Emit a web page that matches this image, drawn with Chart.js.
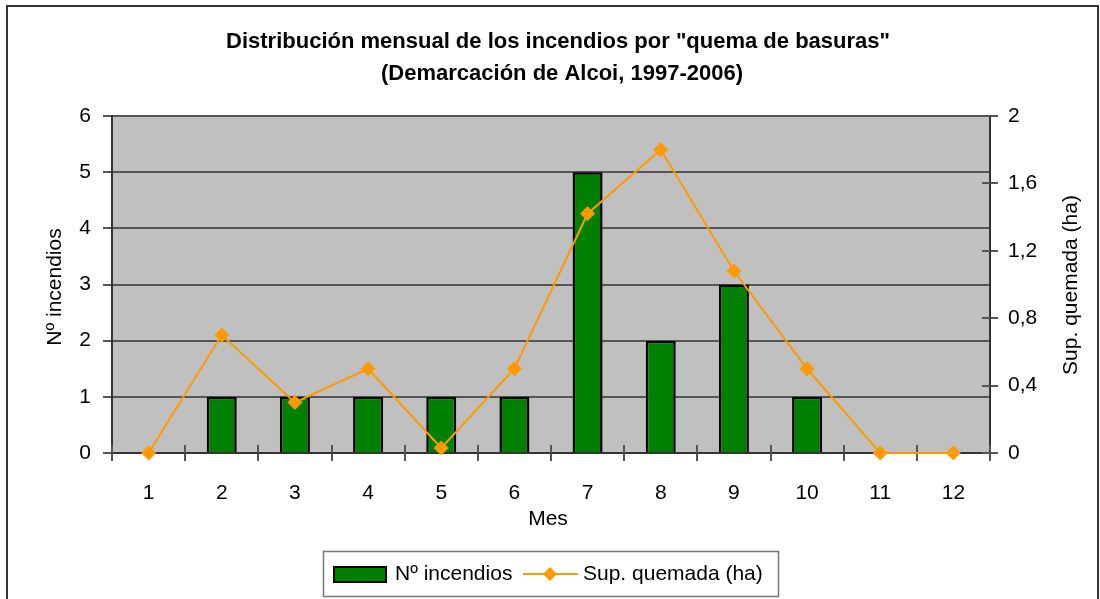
<!DOCTYPE html>
<html>
<head>
<meta charset="utf-8">
<script src="https://cdn.jsdelivr.net/npm/chart.js@4/dist/chart.umd.min.js"></script>
<style>
  html, body { margin: 0; padding: 0; background: #fff; }
  canvas { display: block; }
</style>
</head>
<body>
<canvas id="chart" width="1100" height="599"></canvas>
<script>
// datos
const meses = ["1", "2", "3", "4", "5", "6", "7", "8", "9", "10", "11", "12"];
const incendios = [0, 1, 1, 1, 1, 1, 5, 2, 3, 1, 0, 0];
const superficie = [0, 0.7, 0.3, 0.5, 0.03, 0.5, 1.42, 1.8, 1.08, 0.5, 0, 0];

const titulo = ["Distribución mensual de los incendios por \"quema de basuras\"", "(Demarcación de Alcoi, 1997-2006)"];
const tituloX = "Mes";
const tituloY = "Nº incendios";
const tituloY1 = "Sup. quemada (ha)";

const FAMILY = "'Liberation Sans', Arial, sans-serif";
const VERDE = "#008000";
const NARANJA = "#ff9900";
const GRIS = "#555";

const fondo = {
  id: "fondo",
  beforeDraw(chart) {
    const { ctx, chartArea: a } = chart;
    ctx.save();
    ctx.fillStyle = "#fff";
    ctx.fillRect(0, 0, chart.width, chart.height);
    ctx.fillStyle = "#c0c0c0";
    ctx.fillRect(a.left, a.top, a.right - a.left, a.bottom - a.top);
    // marco exterior
    ctx.strokeStyle = "#333";
    ctx.lineWidth = 2;
    ctx.strokeRect(7, 6, 1091, 700);
    ctx.restore();
  }
};

const extras = {
  id: "extras",
  beforeDatasetsDraw(chart) {
    // marcas interiores (cruzan el eje)
    const { ctx, chartArea: a } = chart;
    const x = chart.scales.x;
    const y1 = chart.scales.y1;
    ctx.save();
    ctx.strokeStyle = GRIS;
    ctx.lineWidth = 2;
    const paso = x.getPixelForValue(1) - x.getPixelForValue(0);
    for (let i = 0; i <= meses.length; i++) {
      const px = Math.round(x.getPixelForValue(0) - paso / 2 + i * paso);
      ctx.beginPath();
      ctx.moveTo(px, a.bottom - 8);
      ctx.lineTo(px, a.bottom);
      ctx.stroke();
    }
    y1.ticks.forEach((t) => {
      const py = Math.round(y1.getPixelForValue(t.value));
      ctx.beginPath();
      ctx.moveTo(a.right - 8, py);
      ctx.lineTo(a.right, py);
      ctx.stroke();
    });
    ctx.restore();
  },
  afterDraw(chart) {
    const { ctx } = chart;
    ctx.save();

    // titulo
    ctx.fillStyle = "#000";
    ctx.textAlign = "center";
    ctx.textBaseline = "middle";
    ctx.font = "bold 22px " + FAMILY;
    ctx.fillText(titulo[0], 558, 42);
    ctx.fillText(titulo[1], 562, 74);

    // titulos de ejes
    ctx.font = "21px " + FAMILY;
    ctx.fillText(tituloX, 548, 519);
    ctx.save();
    ctx.translate(55, 287);
    ctx.rotate(-Math.PI / 2);
    ctx.fillText(tituloY, 0, 0);
    ctx.restore();
    ctx.save();
    ctx.translate(1071, 285);
    ctx.rotate(-Math.PI / 2);
    ctx.fillText(tituloY1, 0, 0);
    ctx.restore();

    // leyenda
    ctx.strokeStyle = "#777";
    ctx.lineWidth = 1.5;
    ctx.strokeRect(323.5, 551.5, 455, 45);
    ctx.fillStyle = VERDE;
    ctx.fillRect(334, 567, 52, 15);
    ctx.strokeStyle = "#000";
    ctx.lineWidth = 2;
    ctx.strokeRect(334, 567, 52, 15);
    ctx.strokeStyle = NARANJA;
    ctx.beginPath();
    ctx.moveTo(523, 574);
    ctx.lineTo(578, 574);
    ctx.stroke();
    ctx.fillStyle = NARANJA;
    ctx.beginPath();
    ctx.moveTo(550 - 7, 574);
    ctx.lineTo(550, 574 - 7);
    ctx.lineTo(550 + 7, 574);
    ctx.lineTo(550, 574 + 7);
    ctx.closePath();
    ctx.fill();
    ctx.fillStyle = "#000";
    ctx.textAlign = "left";
    ctx.fillText(chart.data.datasets[1].label, 395, 574);
    ctx.fillText(chart.data.datasets[0].label, 583, 574);

    ctx.restore();
  }
};

const ctx = document.getElementById("chart").getContext("2d");
const myChart = new Chart(ctx, {
  data: {
    labels: meses,
    datasets: [
      {
        type: "line",
        label: tituloY1,
        data: superficie,
        yAxisID: "y1",
        order: 0,
        clip: false,
        borderColor: NARANJA,
        backgroundColor: NARANJA,
        borderWidth: 2,
        pointStyle: "rectRot",
        pointRadius: 7,
        pointBorderWidth: 1,
        pointBackgroundColor: NARANJA,
        pointBorderColor: NARANJA,
        tension: 0,
      },
      {
        type: "bar",
        label: tituloY,
        data: incendios,
        yAxisID: "y",
        order: 1,
        backgroundColor: VERDE,
        borderColor: "#000",
        borderWidth: 2.5,
        barPercentage: 0.41,
        categoryPercentage: 1,
      },
    ],
  },
  options: {
    responsive: false,
    animation: false,
    devicePixelRatio: 1,
    layout: { padding: { top: 116, left: 0, right: 0, bottom: 0 } },
    plugins: {
      legend: { display: false },
      title: { display: false },
      tooltip: { enabled: false },
    },
    scales: {
      x: {
        offset: true,
        grid: { offset: true, drawOnChartArea: false, color: GRIS, lineWidth: 2, tickLength: 8 },
        border: { color: "#333", width: 2 },
        ticks: { color: "#000", font: { size: 21, family: FAMILY }, padding: 20, maxRotation: 0 },
        afterFit(s) { s.height = 146; },
      },
      y: {
        position: "left",
        min: 0,
        max: 6,
        ticks: { stepSize: 1, color: "#000", font: { size: 21, family: FAMILY }, padding: 12 },
        grid: { color: GRIS, lineWidth: 2, tickLength: 9 },
        border: { color: "#333", width: 2 },
        afterFit(s) { s.width = 112; },
      },
      y1: {
        position: "right",
        min: 0,
        max: 2,
        ticks: {
          stepSize: 0.4,
          color: "#000",
          font: { size: 21, family: FAMILY },
          padding: 10,
          callback: (value) => String(Number(value.toFixed(1))).replace(".", ","),
        },
        grid: { drawOnChartArea: false, color: GRIS, lineWidth: 2, tickLength: 8 },
        border: { color: "#333", width: 2 },
        afterFit(s) { s.width = 110; },
      },
    },
  },
  plugins: [fondo, extras],
});
</script>
</body>
</html>
